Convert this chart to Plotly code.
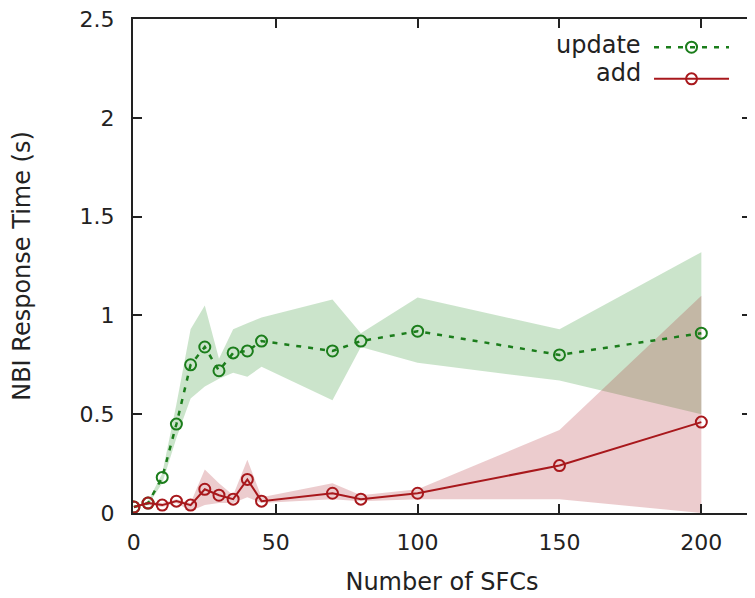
import plotly.graph_objects as go

# ---- data ----
sfcs = [0, 5, 10, 15, 20, 25, 30, 35, 40, 45, 70, 80, 100, 150, 200]

update_mean = [0.03, 0.05, 0.18, 0.45, 0.75, 0.84, 0.72, 0.81, 0.82, 0.87, 0.82, 0.87, 0.92, 0.80, 0.91]
update_upper = [0.03, 0.06, 0.20, 0.55, 0.93, 1.05, 0.78, 0.93, 0.96, 0.99, 1.08, 0.91, 1.09, 0.93, 1.32]
update_lower = [0.03, 0.04, 0.15, 0.38, 0.58, 0.64, 0.68, 0.71, 0.69, 0.74, 0.57, 0.84, 0.76, 0.67, 0.50]

add_mean = [0.03, 0.05, 0.04, 0.06, 0.04, 0.12, 0.09, 0.07, 0.17, 0.06, 0.10, 0.07, 0.10, 0.24, 0.46]
add_upper = [0.03, 0.06, 0.05, 0.07, 0.05, 0.22, 0.15, 0.09, 0.27, 0.08, 0.15, 0.09, 0.12, 0.42, 1.10]
add_lower = [0.03, 0.04, 0.03, 0.05, 0.01, 0.04, 0.05, 0.05, 0.08, 0.05, 0.07, 0.06, 0.07, 0.07, 0.00]

x_ticks = [0, 50, 100, 150, 200]
y_ticks = [0, 0.5, 1, 1.5, 2, 2.5]
y_tick_labels = ["0", "0.5", "1", "1.5", "2", "2.5"]

GREEN = "#1b7d1b"
RED = "#a8181c"
GREEN_BAND = "rgba(20,130,20,0.22)"
RED_BAND = "rgba(170,25,30,0.22)"
FONT = "DejaVu Sans"
FS_TICK = 22
FS_TEXT = 24

fig = go.Figure()

# bands
fig.add_trace(go.Scatter(x=sfcs, y=update_lower, mode="lines", line=dict(width=0),
                         showlegend=False, hoverinfo="skip"))
fig.add_trace(go.Scatter(x=sfcs, y=update_upper, mode="lines", line=dict(width=0),
                         fill="tonexty", fillcolor=GREEN_BAND, showlegend=False, hoverinfo="skip"))
fig.add_trace(go.Scatter(x=sfcs, y=add_lower, mode="lines", line=dict(width=0),
                         showlegend=False, hoverinfo="skip"))
fig.add_trace(go.Scatter(x=sfcs, y=add_upper, mode="lines", line=dict(width=0),
                         fill="tonexty", fillcolor=RED_BAND, showlegend=False, hoverinfo="skip"))

# lines
fig.add_trace(go.Scatter(x=sfcs, y=update_mean, mode="lines+markers", name=" ",
                         line=dict(color=GREEN, width=2.5, dash="5px,7px"),
                         marker=dict(symbol="circle-open", size=11, color=GREEN,
                                     line=dict(width=2, color=GREEN))))
fig.add_trace(go.Scatter(x=sfcs, y=add_mean, mode="lines+markers", name="  ",
                         line=dict(color=RED, width=2),
                         marker=dict(symbol="circle-open", size=11, color=RED,
                                     line=dict(width=2, color=RED))))

axis_common = dict(
    showline=True, linecolor="#222", linewidth=2, mirror="allticks",
    ticks="inside", ticklen=9, tickwidth=1.5, tickcolor="#222",
    showgrid=False, zeroline=False, automargin=False, ticklabeloverflow="allow",
    tickfont=dict(family=FONT, size=FS_TICK, color="#222"),
)

fig.update_layout(
    width=747, height=590,
    margin=dict(l=125, r=2, t=11, b=85),
    paper_bgcolor="white", plot_bgcolor="white",
    font=dict(family=FONT, size=FS_TICK, color="#222"),
    xaxis=dict(range=[-0.3, 217.5], tickvals=x_ticks, ticklabelstandoff=9,
               title=dict(text="Number of SFCs", font=dict(family=FONT, size=FS_TEXT, color="#222"), standoff=19),
               **axis_common),
    yaxis=dict(range=[0, 2.5], tickvals=y_ticks, ticktext=y_tick_labels, ticklabelstandoff=12,
               title=dict(text="NBI Response Time (s)", font=dict(family=FONT, size=FS_TEXT, color="#222"), standoff=42),
               **axis_common),
    legend=dict(x=0.835, y=0.985, xanchor="left", yanchor="top", bgcolor="rgba(0,0,0,0)",
                itemwidth=75, tracegroupgap=0, traceorder="normal", font=dict(family=FONT, size=22)),
    annotations=[
        dict(text="update", xref="paper", yref="paper", x=0.826, y=0.947, xanchor="right",
             yanchor="middle", showarrow=False, font=dict(family=FONT, size=FS_TEXT, color="#222")),
        dict(text="add", xref="paper", yref="paper", x=0.826, y=0.891, xanchor="right",
             yanchor="middle", showarrow=False, font=dict(family=FONT, size=FS_TEXT, color="#222")),
    ],
)

fig.write_html("out.html")
